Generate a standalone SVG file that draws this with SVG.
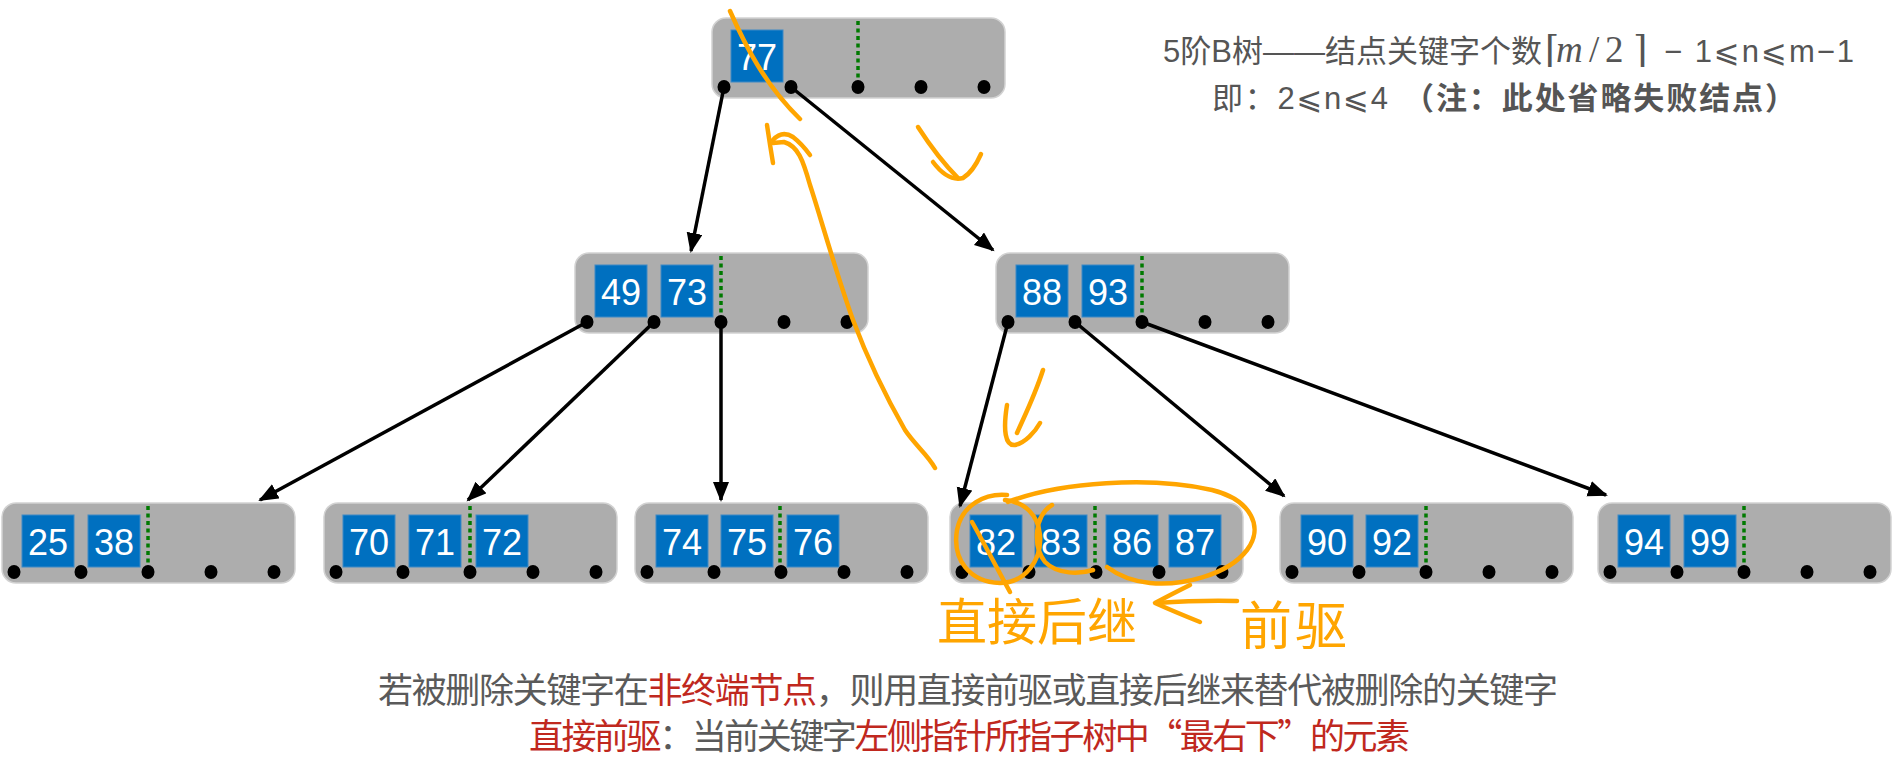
<svg xmlns="http://www.w3.org/2000/svg" width="1897" height="774" viewBox="0 0 1897 774">
<defs>
<style>
.box{fill:#ADADAD;stroke:#D2D2D2;stroke-width:1.5}
.key{fill:#0070C0;stroke:#3F8AC6;stroke-width:1}
.kt{fill:#fff;font-family:"Liberation Sans",Arial,sans-serif;font-size:36px;text-anchor:middle}
.dot{fill:#000}
.div{stroke:#007A00;stroke-width:3.5;stroke-dasharray:4 3.5;fill:none}
.edge{stroke:#000;stroke-width:3.5;fill:none;marker-end:url(#ah)}
.ink{stroke:#FFA500;stroke-width:4.5;fill:none;stroke-linecap:round;stroke-linejoin:round}
.inkt{fill:#FFA500;font-family:"Noto Sans CJK SC","Noto Sans CJK JP",sans-serif}
.tr{fill:#555;font-family:"Liberation Sans","Noto Sans CJK SC","DejaVu Sans",sans-serif;font-size:31px}
.mth{fill:#555;font-family:"Liberation Serif","DejaVu Serif",serif;font-size:37px}
.bt{fill:#5A5A5A;font-family:"Noto Sans CJK SC","Noto Sans CJK TC",sans-serif;font-size:35px}
.red{fill:#C0281E}
</style>
<marker id="ah" markerWidth="22" markerHeight="18" refX="18" refY="8" orient="auto" markerUnits="userSpaceOnUse">
<path d="M0,0 L20,8 L0,16 z" fill="#000"/>
</marker>
</defs>
<rect width="1897" height="774" fill="#fff"/>

<g id="n-root" transform="translate(712,18)">
<rect class="box" width="293" height="80" rx="14"/>
<rect class="key" x="19" y="12" width="52" height="52"/><text class="kt" x="45" y="52">77</text>
<line class="div" x1="146" y1="3" x2="146" y2="63"/>
<ellipse class="dot" cx="12" cy="69" rx="6.5" ry="7"/><ellipse class="dot" cx="79" cy="69" rx="6.5" ry="7"/><ellipse class="dot" cx="146" cy="69" rx="6.5" ry="7"/><ellipse class="dot" cx="209" cy="69" rx="6.5" ry="7"/><ellipse class="dot" cx="272" cy="69" rx="6.5" ry="7"/>
</g>

<g id="n-49-73" transform="translate(575,253)">
<rect class="box" width="293" height="80" rx="14"/>
<rect class="key" x="20" y="12" width="52" height="52"/><text class="kt" x="46" y="52">49</text>
<rect class="key" x="86" y="12" width="52" height="52"/><text class="kt" x="112" y="52">73</text>
<line class="div" x1="146" y1="3" x2="146" y2="63"/>
<ellipse class="dot" cx="12" cy="69" rx="6.5" ry="7"/><ellipse class="dot" cx="79" cy="69" rx="6.5" ry="7"/><ellipse class="dot" cx="146" cy="69" rx="6.5" ry="7"/><ellipse class="dot" cx="209" cy="69" rx="6.5" ry="7"/><ellipse class="dot" cx="272" cy="69" rx="6.5" ry="7"/>
</g>

<g id="n-88-93" transform="translate(996,253)">
<rect class="box" width="293" height="80" rx="14"/>
<rect class="key" x="20" y="12" width="52" height="52"/><text class="kt" x="46" y="52">88</text>
<rect class="key" x="86" y="12" width="52" height="52"/><text class="kt" x="112" y="52">93</text>
<line class="div" x1="146" y1="3" x2="146" y2="63"/>
<ellipse class="dot" cx="12" cy="69" rx="6.5" ry="7"/><ellipse class="dot" cx="79" cy="69" rx="6.5" ry="7"/><ellipse class="dot" cx="146" cy="69" rx="6.5" ry="7"/><ellipse class="dot" cx="209" cy="69" rx="6.5" ry="7"/><ellipse class="dot" cx="272" cy="69" rx="6.5" ry="7"/>
</g>

<g id="n-25-38" transform="translate(2,503)">
<rect class="box" width="293" height="80" rx="14"/>
<rect class="key" x="20" y="12" width="52" height="52"/><text class="kt" x="46" y="52">25</text>
<rect class="key" x="86" y="12" width="52" height="52"/><text class="kt" x="112" y="52">38</text>
<line class="div" x1="146" y1="3" x2="146" y2="63"/>
<ellipse class="dot" cx="12" cy="69" rx="6.5" ry="7"/><ellipse class="dot" cx="79" cy="69" rx="6.5" ry="7"/><ellipse class="dot" cx="146" cy="69" rx="6.5" ry="7"/><ellipse class="dot" cx="209" cy="69" rx="6.5" ry="7"/><ellipse class="dot" cx="272" cy="69" rx="6.5" ry="7"/>
</g>

<g id="n-70-71-72" transform="translate(324,503)">
<rect class="box" width="293" height="80" rx="14"/>
<rect class="key" x="19" y="12" width="52" height="52"/><text class="kt" x="45" y="52">70</text>
<rect class="key" x="85" y="12" width="52" height="52"/><text class="kt" x="111" y="52">71</text>
<rect class="key" x="152" y="12" width="52" height="52"/><text class="kt" x="178" y="52">72</text>
<line class="div" x1="146" y1="3" x2="146" y2="63"/>
<ellipse class="dot" cx="12" cy="69" rx="6.5" ry="7"/><ellipse class="dot" cx="79" cy="69" rx="6.5" ry="7"/><ellipse class="dot" cx="146" cy="69" rx="6.5" ry="7"/><ellipse class="dot" cx="209" cy="69" rx="6.5" ry="7"/><ellipse class="dot" cx="272" cy="69" rx="6.5" ry="7"/>
</g>

<g id="n-74-75-76" transform="translate(635,503)">
<rect class="box" width="293" height="80" rx="14"/>
<rect class="key" x="21" y="12" width="52" height="52"/><text class="kt" x="47" y="52">74</text>
<rect class="key" x="86" y="12" width="52" height="52"/><text class="kt" x="112" y="52">75</text>
<rect class="key" x="152" y="12" width="52" height="52"/><text class="kt" x="178" y="52">76</text>
<line class="div" x1="145" y1="3" x2="145" y2="63"/>
<ellipse class="dot" cx="12" cy="69" rx="6.5" ry="7"/><ellipse class="dot" cx="79" cy="69" rx="6.5" ry="7"/><ellipse class="dot" cx="146" cy="69" rx="6.5" ry="7"/><ellipse class="dot" cx="209" cy="69" rx="6.5" ry="7"/><ellipse class="dot" cx="272" cy="69" rx="6.5" ry="7"/>
</g>

<g id="n-82-83-86-87" transform="translate(950,503)">
<rect class="box" width="293" height="80" rx="14"/>
<rect class="key" x="20" y="12" width="52" height="52"/><text class="kt" x="46" y="52">82</text>
<rect class="key" x="85" y="12" width="52" height="52"/><text class="kt" x="111" y="52">83</text>
<rect class="key" x="156" y="12" width="52" height="52"/><text class="kt" x="182" y="52">86</text>
<rect class="key" x="219" y="12" width="52" height="52"/><text class="kt" x="245" y="52">87</text>
<line class="div" x1="145" y1="3" x2="145" y2="63"/>
<ellipse class="dot" cx="12" cy="69" rx="6.5" ry="7"/><ellipse class="dot" cx="79" cy="69" rx="6.5" ry="7"/><ellipse class="dot" cx="146" cy="69" rx="6.5" ry="7"/><ellipse class="dot" cx="209" cy="69" rx="6.5" ry="7"/><ellipse class="dot" cx="272" cy="69" rx="6.5" ry="7"/>
</g>

<g id="n-90-92" transform="translate(1280,503)">
<rect class="box" width="293" height="80" rx="14"/>
<rect class="key" x="21" y="12" width="52" height="52"/><text class="kt" x="47" y="52">90</text>
<rect class="key" x="86" y="12" width="52" height="52"/><text class="kt" x="112" y="52">92</text>
<line class="div" x1="146" y1="3" x2="146" y2="63"/>
<ellipse class="dot" cx="12" cy="69" rx="6.5" ry="7"/><ellipse class="dot" cx="79" cy="69" rx="6.5" ry="7"/><ellipse class="dot" cx="146" cy="69" rx="6.5" ry="7"/><ellipse class="dot" cx="209" cy="69" rx="6.5" ry="7"/><ellipse class="dot" cx="272" cy="69" rx="6.5" ry="7"/>
</g>

<g id="n-94-99" transform="translate(1598,503)">
<rect class="box" width="293" height="80" rx="14"/>
<rect class="key" x="20" y="12" width="52" height="52"/><text class="kt" x="46" y="52">94</text>
<rect class="key" x="86" y="12" width="52" height="52"/><text class="kt" x="112" y="52">99</text>
<line class="div" x1="146" y1="3" x2="146" y2="63"/>
<ellipse class="dot" cx="12" cy="69" rx="6.5" ry="7"/><ellipse class="dot" cx="79" cy="69" rx="6.5" ry="7"/><ellipse class="dot" cx="146" cy="69" rx="6.5" ry="7"/><ellipse class="dot" cx="209" cy="69" rx="6.5" ry="7"/><ellipse class="dot" cx="272" cy="69" rx="6.5" ry="7"/>
</g>

<g id="connectors">
<line class="edge" x1="724" y1="87" x2="691" y2="251"/>
<line class="edge" x1="791" y1="87" x2="993" y2="250"/>
<line class="edge" x1="587" y1="322" x2="260" y2="500"/>
<line class="edge" x1="654" y1="322" x2="468" y2="500"/>
<line class="edge" x1="721" y1="322" x2="721" y2="500"/>
<line class="edge" x1="1008" y1="322" x2="960" y2="506"/>
<line class="edge" x1="1075" y1="322" x2="1284" y2="496"/>
<line class="edge" x1="1142" y1="322" x2="1606" y2="495"/>
</g>

<g id="note-top">
<text class="tr" x="1163" y="62" textLength="379" lengthAdjust="spacing">5阶B树——结点关键字个数</text>
<text class="mth" y="62"><tspan x="1545">⌈</tspan><tspan x="1556" font-style="italic">m</tspan><tspan x="1589">/</tspan><tspan x="1605">2</tspan><tspan x="1633">⌉</tspan></text>
<text class="tr" x="1664" y="62" font-size="34" textLength="190" lengthAdjust="spacing">− 1⩽n⩽m−1</text>
<text class="tr" x="1212" y="109" font-size="33" textLength="176" lengthAdjust="spacing">即：2⩽n⩽4</text>
<text class="tr" x="1403" y="109" font-size="33" font-weight="bold" textLength="393" lengthAdjust="spacing">（注：此处省略失败结点）</text>
</g>

<g id="note-bottom">
<text class="bt" x="378" y="703" textLength="1180" lengthAdjust="spacing">若被删除关键字在<tspan class="red">非终端节点</tspan>，则用直接前驱或直接后继来替代被删除的关键字</text>
<text class="bt" x="529" y="749" textLength="881" lengthAdjust="spacing"><tspan class="red">直接前驱</tspan>：当前关键字<tspan class="red">左侧指针所指子树中“最右下”的元素</tspan></text>
</g>

<g id="annotations">
<path class="ink" d="M730,11 C745,45 765,85 800,119"/>
<path class="ink" d="M918,127 Q938,158 958,178"/>
<path class="ink" d="M933,162 Q948,182 963,178 Q973,172 981,154"/>
<path class="ink" d="M935,468 C928,455 915,445 905,430 C885,395 868,360 853,320 C835,270 820,215 810,185 C803,160 798,146 784,142 L773,143"/>
<path class="ink" d="M767,125 Q770,145 773,163"/>
<path class="ink" d="M773,140 Q782,130 793,137 Q802,144 810,155"/>
<path class="ink" d="M1043,370 C1035,395 1025,415 1017,433"/>
<path class="ink" d="M1007,405 C1003,430 1005,446 1015,445 C1025,443 1035,432 1040,423"/>
<path class="ink" d="M1007,495 C985,493 962,505 957,530 C952,560 970,582 1000,583 C1025,583 1042,560 1040,535 C1038,515 1025,502 1005,500"/>
<path class="ink" d="M972,522 C985,545 998,570 1010,592"/>
<path class="ink" d="M1008,502 C1060,482 1150,476 1212,490 C1252,500 1264,528 1247,550 C1227,576 1180,586 1150,583 C1130,581 1115,573 1107,567"/>
<path class="ink" d="M1052,505 C1035,515 1032,545 1045,562 C1058,575 1080,574 1093,570"/>
<path class="ink" d="M1190,585 Q1170,595 1155,603 Q1175,612 1200,622"/>
<path class="ink" d="M1157,603 Q1200,600 1237,601"/>
<text class="inkt" x="937" y="640" font-size="50" textLength="200" lengthAdjust="spacing">直接后继</text>
<text class="inkt" x="1240" y="645" font-size="52" textLength="107" lengthAdjust="spacing">前驱</text>
</g>
</svg>
